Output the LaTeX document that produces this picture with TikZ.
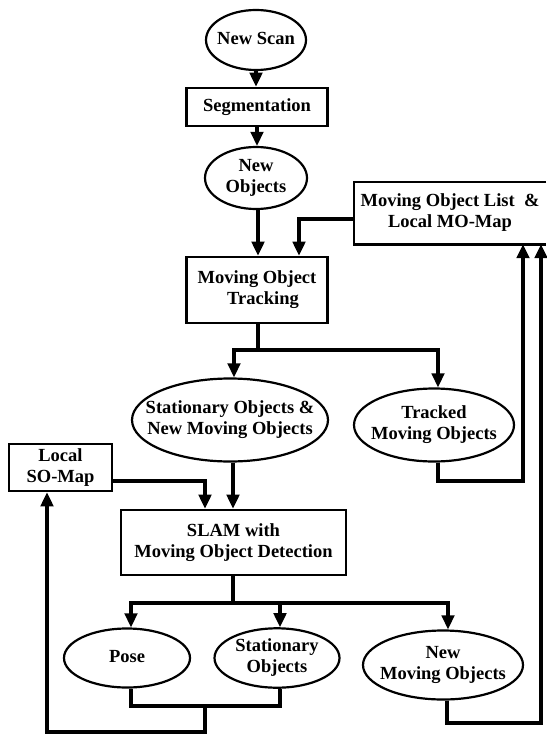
\documentclass[tikz,border=0pt]{standalone}
\usepackage{fontspec}
\setmainfont{Liberation Serif}
\usetikzlibrary{arrows.meta,shapes.geometric}
\newcommand{\ellab}[1]{\makebox[0pt]{\begin{tabular}{@{}c@{}}#1\end{tabular}}}
\begin{document}
\begin{tikzpicture}[x=1pt,y=-1pt,
  every node/.style={font=\fontsize{18.5}{21}\selectfont\bfseries, align=center, inner sep=0pt},
  ell/.style={ellipse, draw, line width=2.2pt},
  box/.style={rectangle, draw, line width=2.6pt},
  boxline/.style={line width=2.6pt},
  con/.style={line width=3.2pt},
  arr/.style={con, -{Triangle[length=14pt,width=12.5pt]}}]
\useasboundingbox (0,0) rectangle (546,736);

% nodes
\node[ell, minimum width=100pt, minimum height=60pt] (scan) at (256,40) {\ellab{New Scan}};
\node[box, minimum width=141pt, minimum height=38pt] (seg) at (257,107) {Segmentation};
\node[ell, minimum width=102pt, minimum height=62pt] (newobj) at (256,178) {\ellab{New\\Objects}};
\node[box, minimum width=141pt, minimum height=66pt] (mot) at (257,290) {Moving Object\\\hspace*{12pt}Tracking};
\node[minimum width=192pt, minimum height=62pt] (mol) at (450,213) {Moving Object List\ \ \&\\Local MO-Map};
\draw[boxline] (mol.north east) -| (mol.south west) -- (mol.south east);
\node[ell, minimum width=196pt, minimum height=83pt] (snmo) at (230,420) {\ellab{Stationary Objects \&\\New Moving Objects}};
\node[ell, minimum width=160pt, minimum height=73pt] (trk) at (434,425) {\ellab{Tracked\\Moving Objects}};
\node[box, minimum width=103pt, minimum height=47pt] (local) at (60.5,467.5) {Local\\SO-Map};
\node[box, minimum width=225pt, minimum height=65pt] (slam) at (233.5,542.5) {SLAM with\\Moving Object Detection};
\node[ell, minimum width=126pt, minimum height=59pt] (pose) at (127,658) {\ellab{Pose}};
\node[ell, minimum width=125pt, minimum height=59pt] (so) at (277,658) {\raisebox{-3pt}{\ellab{Stationary\\Objects}}};
\node[ell, minimum width=160pt, minimum height=69pt] (nmo) at (443,665) {\ellab{New\\Moving Objects}};

% connectors
\draw[arr] (scan.south) -- (scan.south |- seg.north);
\draw[arr] (seg.south) -- (seg.south |- newobj.north);
\draw[arr] ([xshift=2pt]newobj.south) -- ([xshift=2pt]newobj.south |- mot.north);
\coordinate (m1) at (299,219);
\draw[arr] (mol.west |- m1) -- (m1) -- (m1 |- mot.north);
\coordinate (b1) at (258,350);
\draw[con] (mot.south -| b1) -- (b1);
\draw[arr] (b1) -| ([xshift=4pt]snmo.north);
\draw[arr] (b1) -| ([xshift=4pt]trk.north);
\coordinate (t1) at (523,481);
\draw[arr] ([xshift=4pt]trk.south) |- (t1) -- (t1 |- mol.south);
\draw[arr] ([xshift=3pt]snmo.south) -- ([xshift=3pt]snmo.south |- slam.north);
\coordinate (l1) at (205,481);
\draw[arr] (local.east |- l1) -- (l1) -- (l1 |- slam.north);
\coordinate (b2) at (233,603);
\draw[con] (slam.south -| b2) -- (b2);
\draw[arr] (b2) -| ([xshift=4pt]pose.north);
\draw[arr] (b2) -| ([xshift=3pt]so.north);
\draw[arr] (b2) -| ([xshift=5pt]nmo.north);
\coordinate (p1) at (131,706);
\coordinate (p2) at (280,706);
\draw[con] ([xshift=4pt]pose.south) -- (p1) -- (p2) -- ([xshift=3pt]so.south);
\coordinate (p3) at (205,706);
\coordinate (p4) at (205,732);
\coordinate (p5) at (47,732);
\draw[arr] (p3) -- (p4) -- (p5) -- (p5 |- local.south);
\coordinate (n1) at (541,723);
\draw[arr] ([xshift=4pt]nmo.south) |- (n1) -- (n1 |- mol.south);
\end{tikzpicture}
\end{document}
